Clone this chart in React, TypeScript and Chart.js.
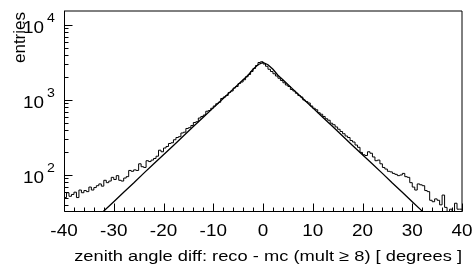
import { useEffect, useRef } from "react";
import { Chart, registerables } from "chart.js";
Chart.register(...registerables);

// ---- data ----
const X_MIN = -40;
const X_MAX = 40;
const BIN_W = 0.5;
const Y_MIN = 32.1;
const Y_MAX = 15370;

// histogram counts, bins of 0.5 deg from -40 to 40
const leftTail = [54, 50, 58, 52, 55, 59, 50, 63, 58, 62, 60, 69, 63, 68, 72, 76, 71, 85, 79, 83, 93, 87, 98, 85, 83, 91, 95, 115, 112, 117, 115, 141, 129, 126, 155, 151, 158, 166, 178, 214];
const leftCore = [204, 229, 240, 263, 269, 295, 316, 324, 363, 372, 417, 427, 457, 501, 513, 575, 603, 631, 708, 724, 776, 832, 891, 933, 1047, 1096, 1148, 1259, 1318, 1445, 1514, 1660, 1738, 1862, 2042, 2188, 2399, 2630, 2884, 3162];
const rightCore = [3236, 3020, 2818, 2570, 2399, 2239, 2089, 1950, 1820, 1698, 1585, 1514, 1380, 1318, 1230, 1148, 1096, 1000, 955, 912, 832, 776, 741, 676, 646, 603, 562, 537, 490, 468, 437, 407, 380, 355, 331, 316, 288, 275, 251, 234];
const rightTail = [200, 186, 182, 204, 195, 174, 155, 158, 141, 126, 120, 112, 110, 105, 102, 98, 100, 105, 95, 93, 79, 69, 63, 76, 74, 72, 62, 60, 46, 44, 48, 46, 40, 54, 37, 25, 35, 25, 42, 35];

// fitted curve
const fitX = [-34, -32, -30, -28, -26, -24, -22, -20, -18, -16, -14, -12, -10, -8, -6, -4, -3, -2, -1, 0, 1, 2, 3, 4, 6, 8, 10, 12, 14, 16, 18, 20, 22, 24, 26, 28, 30, 32, 34];
const fitY = [25, 33, 44, 59, 78, 105, 140, 186, 248, 331, 442, 589, 785, 1047, 1396, 1862, 2138, 2570, 2951, 3162, 2951, 2570, 2138, 1862, 1396, 1047, 785, 589, 442, 331, 248, 186, 140, 105, 78, 59, 44, 33, 25];

// ticks and labels
const xMajorTicks = [-40, -30, -20, -10, 0, 10, 20, 30, 40];
const xMinorStep = 2;
const yDecadeExps = [1, 2, 3, 4];
const xTitle = "zenith angle diff: reco - mc (mult \u2265 8) [ degrees ]";
const yTitle = "entries";

const FONT = "'Liberation Sans', Arial, Helvetica, sans-serif";
const STRETCH = 1.18;

function drawText(ctx: CanvasRenderingContext2D, text: string, x: number, y: number, size: number, align: CanvasTextAlign) {
  ctx.save();
  ctx.translate(x, y);
  ctx.scale(STRETCH, 1);
  ctx.font = `${size}px ${FONT}`;
  ctx.textAlign = align;
  ctx.textBaseline = "alphabetic";
  ctx.fillText(text, 0, 0);
  ctx.restore();
}

const framePlugin = {
  id: "rootFrame",
  afterDraw(chart: any) {
    const { ctx, chartArea: a, scales } = chart;
    const xs = scales.x;
    const ys = scales.y;
    ctx.save();
    ctx.strokeStyle = "#000";
    ctx.fillStyle = "#000";
    ctx.lineWidth = 1;
    // frame
    ctx.beginPath();
    ctx.moveTo(a.left + 0.5, a.top);
    ctx.lineTo(a.left + 0.5, a.bottom - 0.5);
    ctx.lineTo(a.right, a.bottom - 0.5);
    ctx.stroke();
    ctx.beginPath();
    ctx.moveTo(a.left, a.top);
    ctx.lineTo(a.right, a.top);
    ctx.lineTo(a.right, a.bottom);
    ctx.stroke();
    // x ticks
    ctx.beginPath();
    for (let v = X_MIN; v <= X_MAX + 1e-9; v += xMinorStep) {
      const px = Math.round(xs.getPixelForValue(v)) + 0.5;
      const len = xMajorTicks.includes(v) ? 8 : 4;
      ctx.moveTo(px, a.bottom - 0.5);
      ctx.lineTo(px, a.bottom - 0.5 - len);
    }
    // y ticks
    for (const e of yDecadeExps) {
      const d = Math.pow(10, e);
      for (let k = 1; k <= 9; k++) {
        const v = k * d;
        if (v < Y_MIN || v > Y_MAX) continue;
        const py = Math.round(ys.getPixelForValue(v)) + 0.5;
        const len = k === 1 ? 8 : 4;
        ctx.moveTo(a.left + 0.5, py);
        ctx.lineTo(a.left + 0.5 + len, py);
      }
    }
    ctx.stroke();
    // x tick labels
    for (const v of xMajorTicks) {
      drawText(ctx, String(v), xs.getPixelForValue(v), 236, 16, "center");
    }
    // y tick labels
    for (const e of yDecadeExps) {
      const v = Math.pow(10, e);
      if (v < Y_MIN || v > Y_MAX) continue;
      const py = ys.getPixelForValue(v);
      drawText(ctx, "10", 44, py + 8, 16, "right");
      drawText(ctx, String(e), 47, py - 3, 12, "left");
    }
    // axis titles
    drawText(ctx, xTitle, a.right, 261, 15.5, "right");
    ctx.save();
    ctx.translate(25, 12);
    ctx.rotate(-Math.PI / 2);
    ctx.font = `17px ${FONT}`;
    ctx.textAlign = "right";
    ctx.textBaseline = "alphabetic";
    ctx.fillText(yTitle, 0, 0);
    ctx.restore();
    ctx.restore();
  },
};

export default function App() {
  const ref = useRef<HTMLCanvasElement | null>(null);
  useEffect(() => {
    if (!ref.current) return;
    const counts = [...leftTail, ...leftCore, ...rightCore, ...rightTail];
    const histPoints = counts.map((c, i) => ({ x: X_MIN + i * BIN_W, y: c }));
    histPoints.push({ x: X_MAX, y: counts[counts.length - 1] });
    const fitPoints = fitX.map((x, i) => ({ x, y: fitY[i] }));
    const chart = new Chart(ref.current, {
      type: "line",
      data: {
        datasets: [
          {
            data: histPoints,
            stepped: "after",
            borderColor: "#000",
            borderWidth: 1,
            pointRadius: 0,
            fill: false,
          },
          {
            data: fitPoints,
            borderColor: "#000",
            borderWidth: 1.3,
            pointRadius: 0,
            tension: 0,
            fill: false,
          },
        ],
      },
      options: {
        animation: false,
        responsive: false,
        layout: { padding: { left: 64, right: 10, top: 11, bottom: 54 } },
        plugins: { legend: { display: false }, tooltip: { enabled: false } },
        scales: {
          x: { type: "linear", min: X_MIN, max: X_MAX, display: false },
          y: { type: "logarithmic", min: Y_MIN, max: Y_MAX, display: false },
        },
      },
      plugins: [framePlugin],
    } as any);
    return () => chart.destroy();
  }, []);
  return (
    <div style={{ position: "absolute", left: 0, top: 0, width: 472, height: 266, background: "#fff" }}>
      <canvas ref={ref} width={472} height={266} />
    </div>
  );
}
